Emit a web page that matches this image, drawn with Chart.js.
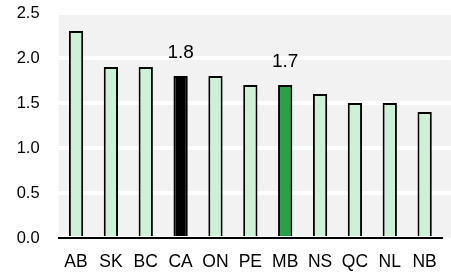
<!DOCTYPE html>
<html><head><meta charset="utf-8">
<script src="https://cdn.jsdelivr.net/npm/chart.js@4/dist/chart.umd.min.js"></script>
<style>html,body{margin:0;padding:0;background:#fff}#wrap{width:451px;height:280px}</style>
</head><body><div id="wrap"><canvas id="c" width="451" height="280"></canvas></div>
<script>
const categories = ["AB","SK","BC","CA","ON","PE","MB","NS","QC","NL","NB"];
const values = [2.3,1.9,1.9,1.8,1.8,1.7,1.7,1.6,1.5,1.5,1.4];
const barColors = ["#cdf1d6","#cdf1d6","#cdf1d6","#000000","#cdf1d6","#cdf1d6","#27a048","#cdf1d6","#cdf1d6","#cdf1d6","#cdf1d6"];
const labelled = ["CA","MB"];
const yTicks = [0,0.5,1.0,1.5,2.0,2.5];
const FONT = '"Liberation Sans", Arial, sans-serif';

const bgPlugin = {id:'bg', beforeDraw(chart){const a=chart.chartArea,ctx=chart.ctx;const ys=chart.scales.y;ctx.save();ctx.fillStyle='#f2f2f2';ctx.fillRect(a.left,a.top,chart.width-a.left,a.bottom-a.top);
  ctx.strokeStyle='#fff';ctx.lineWidth=4;yTicks.forEach(v=>{if(v===0)return;const y=ys.getPixelForValue(v);ctx.beginPath();ctx.moveTo(a.right,y);ctx.lineTo(chart.width,y);ctx.stroke();});ctx.restore();}};
const labelPlugin = {id:'lbl', afterDatasetsDraw(chart){const ctx=chart.ctx;const meta=chart.getDatasetMeta(0);ctx.save();ctx.font='19px '+FONT;ctx.fillStyle='#000';ctx.textAlign='center';ctx.textBaseline='alphabetic';meta.data.forEach((el,i)=>{if(labelled.includes(categories[i])){ctx.fillText(values[i].toFixed(1),el.x,el.y-18);}});ctx.restore();}};

new Chart(document.getElementById('c'),{
 type:'bar',
 data:{labels:categories,datasets:[{data:values,backgroundColor:barColors,borderColor:'#000',borderWidth:2,categoryPercentage:1,barPercentage:0.41}]},
 options:{responsive:false,animation:false,devicePixelRatio:1,
  layout:{padding:{top:13,right:4.5,left:0,bottom:0}},
  plugins:{legend:{display:false},tooltip:{enabled:false}},
  scales:{
   x:{grid:{display:false,drawTicks:false},border:{display:true,color:'#000',width:2},
      afterFit(s){s.height=42;},
      ticks:{color:'#000',font:{family:FONT,size:17.5},padding:14}},
   y:{min:0,max:2.5,afterBuildTicks(s){s.ticks=yTicks.map(v=>({value:v}));},
      afterFit(s){s.width=58.6;s.paddingTop=0;s.paddingBottom=0;},
      grid:{color:'#ffffff',lineWidth:4,drawTicks:false},border:{display:false},
      ticks:{color:'#000',font:{family:FONT,size:16.5},padding:19,callback:v=>v.toFixed(1)}}
  }},
 plugins:[bgPlugin,labelPlugin]
});
</script></body></html>
